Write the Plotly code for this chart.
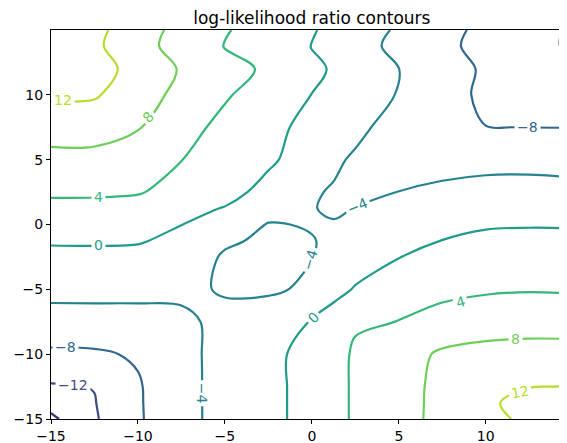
import plotly.graph_objects as go

# grid coordinates (data units)
x_vals = [-15, -12.5, -10, -7.5, -5, -2.5, 0, 1.25, 2.5, 5, 7.5, 10, 12.5, 15]
y_vals = [-15, -13.75, -12.5, -10, -7.5, -5, -2.5, -1.25, 0, 1.25, 2.5, 5, 7.5, 10, 12, 13.75, 15]

# log-likelihood ratio values, one row per y
z_y_m15 = [-16.8, -12.4, -8.46, -5.1, -2.8, -1.2, 1.59, 3.05, 4.41, 6.71, 9.0, 11.3, 12.5, 12.3]
z_y_m13_75 = [-14.6, -12.15, -8.4, -5.1, -2.8, -1.2, 1.59, 3.05, 4.41, 6.7, 8.95, 11.7, 12.6, 12.4]
z_y_m12_5 = [-12.36, -11.9, -8.35, -5.1, -2.8, -1.2, 1.59, 3.05, 4.41, 6.68, 8.9, 10.4, 11.95, 12.05]
z_y_m10 = [-8.65, -8.5, -7.6, -5.05, -2.8, -1.2, 1.59, 3.0, 4.37, 6.5, 8.5, 9.0, 9.2, 9.3]
z_y_m7_5 = [-5.48, -5.45, -5.3, -4.7, -3.1, -1.6, 0.2, 1.9, 3.7, 4.05, 5.6, 6.5, 6.7, 6.5]
z_y_m5 = [-2.92, -2.9, -3.0, -3.3, -4.3, -4.6, -3.3, -1.3, 0.3, 2.0, 2.9, 3.5, 3.75, 3.62]
z_y_m2_5 = [-0.83, -0.85, -1.0, -1.9, -4.4, -4.9, -4.1, -3.1, -2.0, -0.08, 1.0, 1.6, 1.8, 1.72]
z_y_m1_25 = [0.35, 0.4, 0.3, -0.9, -3.5, -4.6, -4.1, -3.6, -2.75, -1.05, 0.05, 0.65, 0.8, 0.74]
z_y_0 = [1.71, 1.7, 1.6, 0.05, -2.2, -4.15, -3.85, -3.85, -3.5, -2.0, -1.03, -0.3, -0.2, -0.24]
z_y_1_25 = [3.1, 3.1, 2.9, 1.3, -0.2, -2.8, -3.9, -4.3, -3.95, -3.0, -2.2, -1.5, -1.4, -1.5]
z_y_2_5 = [4.49, 4.45, 4.2, 3.0, 1.5, -1.4, -3.7, -4.25, -4.9, -3.97, -3.3, -2.7, -2.6, -2.81]
z_y_5 = [6.93, 6.9, 6.5, 4.05, 2.0, 0.7, -2.2, -3.5, -4.4, -4.8, -5.3, -5.2, -5.2, -5.44]
z_y_7_5 = [9.65, 9.6, 8.2, 5.4, 2.98, 1.02, -1.05, -2.15, -3.25, -5.3, -7.0, -7.97, -8.02, -8.05]
z_y_10 = [12.6, 12.4, 9.73, 6.94, 4.4, 2.15, -0.05, -1.08, -2.1, -4.2, -6.8, -8.6, -9.3, -9.86]
z_y_12 = [14.3, 13.5, 10.7, 7.66, 5.53, 3.31, 0.84, -0.4, -1.59, -3.98, -6.38, -8.5, -10.0, -11.3]
z_y_13_75 = [14.6, 12.7, 9.44, 6.49, 3.84, 1.88, -0.1, -1.34, -2.57, -4.94, -7.19, -9.08, -10.78, -12.5]
z_y_15 = [14.8, 13.05, 9.77, 6.84, 4.3, 2.26, 0.28, -0.85, -2.07, -4.48, -6.86, -8.88, -10.58, -12.45]

z = [z_y_m15, z_y_m13_75, z_y_m12_5, z_y_m10, z_y_m7_5, z_y_m5, z_y_m2_5, z_y_m1_25,
     z_y_0, z_y_1_25, z_y_2_5, z_y_5, z_y_7_5, z_y_10, z_y_12, z_y_13_75, z_y_15]

levels = [-16, -12, -8, -4, 0, 4, 8, 12]
level_colors = ["#472878", "#3f4a89", "#31668e", "#26828e",
                "#1f9c89", "#35b779", "#6ece58", "#b5de2b"]

# inline contour labels (level, text, where they sit, rotation)
label_level = [12, 8, 4, 0, -4, -8, -4, 0, 4, 8, 12, -4, -8, -12]
label_text = ["12", "8", "4", "0", "\u22124", "\u22128", "\u22124", "0", "4", "8", "12",
              "\u22124", "\u22128", "\u221212"]
label_x = [-14.29, -9.4, -12.28, -12.28, 2.6, 12.37, -0.1, 0.07, 8.52, 11.68, 11.97, -6.3, -14.18, -13.72]
label_y = [9.58, 8.27, 2.1, -1.55, 1.45, 7.5, -2.75, -7.2, -5.95, -8.82, -12.88, -13.0, -9.47, -12.4]
label_angle = [0, -46, 0, 0, -22, 0, -73, -46, -16, 0, -11, 90, 0, 0]

x_ticks = [-15, -10, -5, 0, 5, 10]
y_ticks = [-15, -10, -5, 0, 5, 10]

FONT = "DejaVu Sans"
color_of = dict(zip(levels, level_colors))

fig = go.Figure()
for lev, col in zip(levels, level_colors):
    fig.add_trace(go.Contour(
        x=x_vals, y=y_vals, z=z,
        autocontour=False,
        contours=dict(start=lev, end=lev, size=4, coloring="none", showlabels=False),
        line=dict(color=col, width=2.2, smoothing=1.0),
        showscale=False, hoverinfo="skip",
    ))

for lev, txt, lx, ly, ang in zip(label_level, label_text, label_x, label_y, label_angle):
    fig.add_annotation(
        x=lx, y=ly, xref="x", yref="y", text=txt, showarrow=False,
        textangle=ang, bgcolor="white", borderpad=2,
        font=dict(family=FONT, size=14, color=color_of[lev]),
    )

axis_common = dict(
    showgrid=False, zeroline=False, showline=True, linecolor="black",
    linewidth=1.1, ticks="outside", ticklen=4, tickwidth=1.1,
    tickcolor="black", tickfont=dict(family=FONT, size=14, color="black"),
    automargin=False,
)

# the page body adds an 8px offset, so the figure is sized to end at the window edge
FIG_W, FIG_H = 559, 435

fig.update_layout(
    width=FIG_W, height=FIG_H,
    margin=dict(l=43, r=0, t=22, b=24, pad=0),
    paper_bgcolor="white", plot_bgcolor="white",
    showlegend=False,
    title=dict(text="log-likelihood ratio contours",
               font=dict(family=FONT, size=17, color="black"),
               x=0.5055, xref="paper", xanchor="center",
               y=1 - 10 / FIG_H, yref="container", yanchor="middle"),
    xaxis=dict(range=[-15, 14.67], tickvals=x_ticks, mirror=True, **axis_common),
    yaxis=dict(range=[-15, 15], tickvals=y_ticks, mirror=False, **axis_common),
)

fig.write_html("out.html")
